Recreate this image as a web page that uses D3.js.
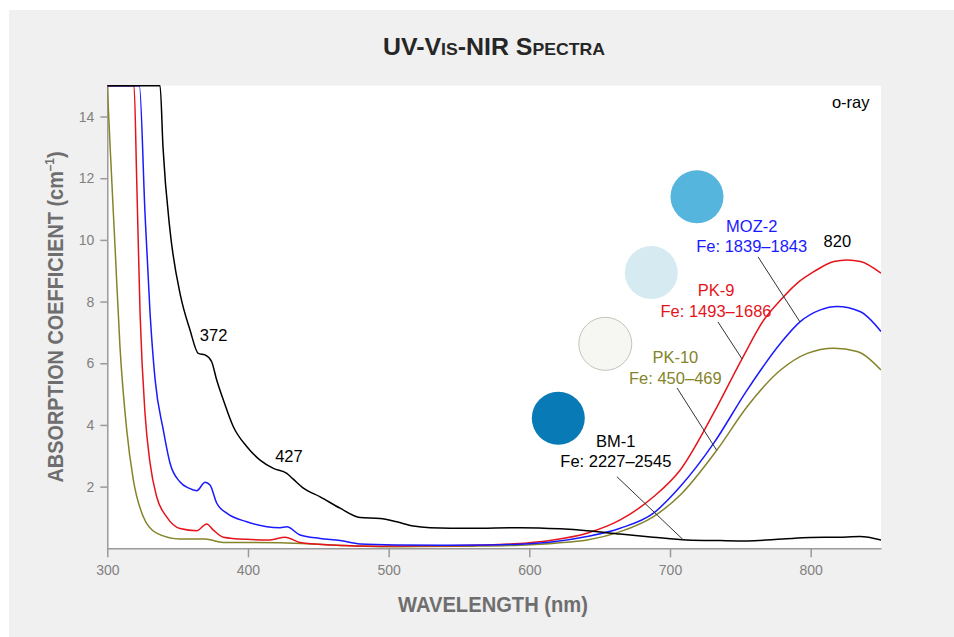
<!DOCTYPE html>
<html>
<head>
<meta charset="utf-8">
<script src="https://cdn.jsdelivr.net/npm/d3@7"></script>
<style>
  body { margin: 0; background: #fff; }
  svg { display: block; }
  .tick text { font-family: "Liberation Sans", Arial, sans-serif; font-size: 14px; fill: #808080; }
  .tick line, .domain { stroke: #9a9a9a; stroke-width: 1.5; }
</style>
</head>
<body>
<div class="chart"></div>
<script>
// Data (wavelength nm, absorption coefficient cm-1)
const bm1 = [[300,15],[337.5,15],[339.6,13.0],[344.6,10.3],[352,8.2],[358.8,7.08],[364.7,6.32],[369.5,6.27],
  [374.2,6.05],[377.5,5.5],[382.5,4.81],[389.6,3.94],[399.1,3.30],[408.6,2.86],[418.1,2.59],[427.6,2.43],
  [432,2.25],[439.4,1.95],[451.3,1.67],[465.5,1.30],[479.7,1.00],[493.9,0.97],[505.8,0.86],[517.6,0.72],
  [529.5,0.67],[558,0.65],[593.5,0.67],[622,0.63],[641,0.57],[664.6,0.46],[688,0.36],[712,0.27],[735.8,0.25],
  [754.8,0.24],[780,0.30],[799.8,0.35],[820,0.36],[835,0.38],[850,0.27]]
const moz2 = [[300,15],[322.8,15],[326.8,10.87],[330.4,7.62],[334,5.46],[339.8,3.84],[344.6,2.76],[351.7,2.15],
  [358,1.95],[363.6,1.87],[369.5,2.14],[373,2.05],[377.8,1.46],[384.9,1.14],[399.1,0.86],[413.4,0.70],
  [422.8,0.67],[427.6,0.70],[437,0.43],[451.3,0.32],[465.5,0.25],[479.7,0.14],[505.8,0.11],[540,0.10],
  [569.8,0.11],[600,0.15],[617.2,0.21],[641,0.38],[664.6,0.65],[688.3,1.14],[707.3,2.0],[731,3.4],
  [754.8,5.13],[778.6,6.65],[792.6,7.35],[806.9,7.73],[818.7,7.84],[835.4,7.67],[850,7.03]]
const pk9 = [[300,15],[319,15],[320.9,11.95],[323.3,7.62],[326.8,4.38],[330.4,2.76],[335.1,1.67],[342.2,1.02],
  [351.7,0.64],[363.6,0.57],[370.7,0.79],[375.4,0.59],[382.5,0.36],[399.1,0.29],[415.7,0.27],[426.4,0.36],
  [437,0.19],[458.4,0.11],[493.9,0.07],[522,0.08],[569.8,0.11],[600,0.18],[617,0.27],[641,0.49],[664.6,0.92],
  [688.3,1.67],[707.3,2.54],[731,4.38],[751.4,6.16],[766.8,7.41],[778.6,8.05],[790.5,8.6],[802.3,8.97],
  [816.5,9.30],[826,9.35],[835.4,9.30],[850,8.92]]
const pk10 = [[300,15],[302,13.03],[305.5,9.78],[309,6.54],[313.8,3.84],[318.5,2.22],[325.6,1.02],[335,0.49],
  [351.7,0.30],[369.5,0.30],[382.5,0.19],[422.8,0.18],[458.4,0.11],[493.9,0.05],[522,0.06],[560,0.07],
  [593.5,0.10],[620,0.17],[641,0.27],[664.6,0.54],[688.3,1.03],[707.3,1.73],[733.4,3.19],[754.8,4.59],
  [778.6,5.78],[797.6,6.32],[816.5,6.49],[833,6.38],[850,5.78]]

const samples = ['MOZ-2', 'PK-9', 'PK-10', 'BM-1']
const ironRanges = ['Fe: 1839\u20131843', 'Fe: 1493\u20131686', 'Fe: 450\u2013469', 'Fe: 2227\u20132545']
const peaks = [372, 427, 820]
const xTicks = [300, 400, 500, 600, 700, 800]
const yTicks = [2, 4, 6, 8, 10, 12, 14]

// Dimensions
const dimensions = { width: 954, height: 637, left: 107.3, right: 881, top: 85.7, bottom: 548.3 }

const svg = d3.select('.chart')
  .append('svg')
  .attr('width', dimensions.width)
  .attr('height', dimensions.height)

svg.append('rect')
  .attr('x', 9).attr('y', 10)
  .attr('width', dimensions.width - 9).attr('height', dimensions.height - 10)
  .attr('fill', '#f0f0f0')

svg.append('rect')
  .attr('x', dimensions.left).attr('y', dimensions.top)
  .attr('width', dimensions.right - dimensions.left)
  .attr('height', dimensions.bottom - dimensions.top)
  .attr('fill', '#fff')

const xScale = d3.scaleLinear().domain([300, 850]).range([dimensions.left, dimensions.right])
const yScale = d3.scaleLinear().domain([0, 15]).range([dimensions.bottom, dimensions.top])

// Axes
svg.append('g')
  .attr('transform', `translate(0, ${dimensions.bottom})`)
  .call(d3.axisBottom(xScale).tickValues(xTicks).tickSize(9).tickSizeOuter(0).tickPadding(8))

svg.append('g')
  .attr('transform', `translate(${dimensions.left}, 0)`)
  .call(d3.axisLeft(yScale).tickValues(yTicks).tickSize(7).tickSizeOuter(0).tickPadding(6))

svg.selectAll('.domain').attr('stroke', '#9a9a9a')

// Titles
svg.append('text')
  .attr('x', 494).attr('y', 55)
  .attr('text-anchor', 'middle')
  .attr('font-family', '"Liberation Sans Narrow", "Liberation Sans", sans-serif')
  .attr('font-weight', 'bold')
  .attr('font-size', 24)
  .style('font-variant', 'small-caps')
  .attr('fill', '#262626')
  .attr('textLength', 222)
  .attr('lengthAdjust', 'spacingAndGlyphs')
  .text('UV-Vis-NIR Spectra')

const yTitle = svg.append('text')
  .attr('transform', 'translate(63, 317) rotate(-90)')
  .attr('text-anchor', 'middle')
  .attr('font-family', '"Liberation Sans Narrow", "Liberation Sans", sans-serif')
  .attr('font-weight', 'bold')
  .attr('font-size', 22)
  .attr('fill', '#6e6e6e')
  .attr('textLength', 331)
  .attr('lengthAdjust', 'spacingAndGlyphs')
yTitle.append('tspan').text('ABSORPTION COEFFICIENT (cm')
yTitle.append('tspan').attr('font-size', 13).attr('dy', -9).text('\u20131')
yTitle.append('tspan').attr('dy', 9).text(')')

svg.append('text')
  .attr('x', 493).attr('y', 612)
  .attr('text-anchor', 'middle')
  .attr('font-family', '"Liberation Sans Narrow", "Liberation Sans", sans-serif')
  .attr('font-weight', 'bold')
  .attr('font-size', 22)
  .attr('fill', '#6e6e6e')
  .attr('textLength', 190)
  .attr('lengthAdjust', 'spacingAndGlyphs')
  .text('WAVELENGTH (nm)')

// Curves
svg.append('clipPath').attr('id', 'plot-clip')
  .append('rect')
  .attr('x', dimensions.left).attr('y', dimensions.top - 1)
  .attr('width', dimensions.right - dimensions.left)
  .attr('height', dimensions.bottom - dimensions.top + 1)

const line = d3.line()
  .x(d => xScale(d[0]))
  .y(d => yScale(d[1]))
  .curve(d3.curveMonotoneX)

const series = [
  { name: 'PK-10', data: pk10, color: '#84842a' },
  { name: 'PK-9', data: pk9, color: '#e5141b' },
  { name: 'MOZ-2', data: moz2, color: '#1a1aff' },
  { name: 'BM-1', data: bm1, color: '#000' }
]

svg.append('g')
  .attr('clip-path', 'url(#plot-clip)')
  .selectAll('path')
  .data(series)
  .join('path')
  .attr('d', d => line(d.data))
  .attr('fill', 'none')
  .attr('stroke', d => d.color)
  .attr('stroke-width', 1.5)

// value on a series at a wavelength (linear between read points)
function valueAt(data, wl) {
  const i = d3.bisector(d => d[0]).left(data, wl)
  const a = data[i - 1], b = data[i]
  return a[1] + (b[1] - a[1]) * (wl - a[0]) / (b[0] - a[0])
}

// Sample annotations: swatch, label, leader (in data units)
const annotations = [
  { swatch: [719.2, 11.4], fill: '#56b5dc', stroke: 'none', label: [758.1, 10.27], from: [762.6, 9.45], to: 792.4, data: moz2, color: '#1a1aff' },
  { swatch: [686.7, 8.94], fill: '#d5ebf1', stroke: 'none', label: [732.7, 8.18], from: [734.1, 7.34], to: 751.2, data: pk9, color: '#e5141b' },
  { swatch: [654, 6.63], fill: '#f6f6f2', stroke: '#c4c4bc', label: [703.8, 6.0], from: [705.0, 5.2], to: 733.2, data: pk10, color: '#84842a' },
  { swatch: [620.6, 4.22], fill: '#087bb7', stroke: 'none', label: [661.5, 3.30], from: [662.3, 2.32], to: 709.3, data: bm1, color: '#000' }
]

const notes = svg.append('g')
  .attr('font-family', '"Liberation Sans", Arial, sans-serif')
  .attr('font-size', 16.5)
  .attr('text-anchor', 'middle')

annotations.forEach((a, i) => {
  notes.append('circle')
    .attr('cx', xScale(a.swatch[0])).attr('cy', yScale(a.swatch[1]))
    .attr('r', 26.5)
    .attr('fill', a.fill)
    .attr('stroke', a.stroke)
  notes.append('line')
    .attr('x1', xScale(a.from[0])).attr('y1', yScale(a.from[1]))
    .attr('x2', xScale(a.to)).attr('y2', yScale(valueAt(a.data, a.to)))
    .attr('stroke', '#333')
    .attr('stroke-width', 1)
  const t = notes.append('text')
    .attr('fill', a.color)
  t.append('tspan').attr('x', xScale(a.label[0])).attr('y', yScale(a.label[1])).text(samples[i])
  t.append('tspan').attr('x', xScale(a.label[0])).attr('dy', 20.5).text(ironRanges[i])
})

// Peak labels
const peakY = [6.72, 2.81, 9.78]
notes.selectAll('.peak')
  .data(peaks)
  .join('text')
  .attr('class', 'peak')
  .attr('x', d => xScale(d) + (d === 372 ? 5 : d === 427 ? 3 : -1.5))
  .attr('y', (d, i) => yScale(peakY[i]))
  .attr('fill', '#000')
  .text(d => d)

notes.append('text')
  .attr('x', 869.5).attr('y', 108)
  .attr('text-anchor', 'end')
  .attr('fill', '#000')
  .text('o-ray')
</script>
</body>
</html>
